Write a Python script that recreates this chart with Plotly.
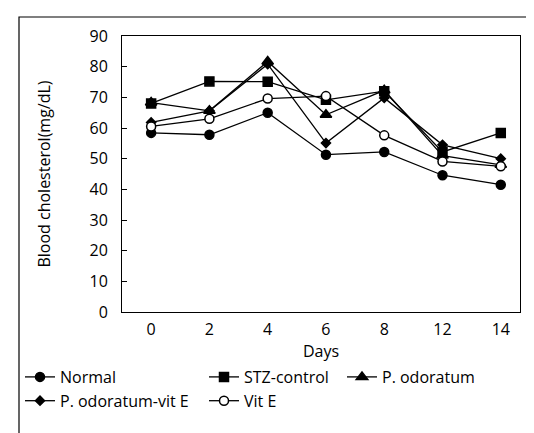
import plotly.graph_objects as go

days = ["0", "2", "4", "6", "8", "12", "14"]
normal = [58.4, 57.8, 65.0, 51.3, 52.2, 44.6, 41.5]
stz_control = [68.0, 75.2, 75.1, 69.2, 72.0, 52.2, 58.4]
p_odoratum = [68.3, 65.6, 81.7, 64.3, 72.3, 51.0, 48.0]
p_odoratum_vitE = [61.8, 65.6, 80.8, 55.1, 69.8, 54.5, 50.0]
vit_e = [60.5, 63.0, 69.6, 70.4, 57.6, 49.1, 47.5]
yticks = [0, 10, 20, 30, 40, 50, 60, 70, 80, 90]

W, H = 534, 433
L, R, T, B = 114, 22, 28, 129
PW, PH = W - L - R, H - T - B

FONT = "Open Sans"
FS = 16
xidx = list(range(len(days)))

series = [
    ("Normal", normal, "circle", 9, "black", "legend"),
    ("STZ-control", stz_control, "square", 9, "black", "legend2"),
    ("P. odoratum", p_odoratum, "triangle-up", 10, "black", "legend3"),
    ("P. odoratum-vit E", p_odoratum_vitE, "diamond", 7, "black", "legend"),
    ("Vit E", vit_e, "circle", 9, "white", "legend2"),
]

fig = go.Figure()
for name, vals, sym, sz, col, lg in series:
    fig.add_trace(go.Scatter(
        x=xidx, y=vals, name=name, mode="lines+markers",
        line=dict(color="black", width=1.3),
        marker=dict(symbol=sym, size=sz, color=col,
                    line=dict(color="black", width=1.5)),
        legend=lg,
    ))

def px2paper_x(px):
    return (px - L) / PW

def px2paper_y(py):
    return (H - B - py) / PH

leg_common = dict(font=dict(family=FONT, size=FS, color="black"), bgcolor="rgba(0,0,0,0)",
                  xref="paper", yref="paper", xanchor="left", yanchor="top",
                  orientation="v", tracegroupgap=0, itemwidth=30)

fig.update_layout(
    width=W, height=H,
    margin=dict(l=L, r=R, t=T, b=B, autoexpand=False),
    paper_bgcolor="white", plot_bgcolor="white",
    font=dict(family=FONT, size=FS, color="black"),
    showlegend=True,
    legend=dict(x=px2paper_x(12), y=px2paper_y(352), **leg_common),
    legend2=dict(x=px2paper_x(196), y=px2paper_y(352), **leg_common),
    legend3=dict(x=px2paper_x(334), y=px2paper_y(352), **leg_common),
    xaxis=dict(
        range=[-0.5, 6.33], tickmode="array", tickvals=xidx, ticktext=days,
        showgrid=False, zeroline=False, showline=True, linecolor="black", linewidth=1,
        mirror=True, ticks="", ticklabelstandoff=3,
        title=dict(text="Days", standoff=5, font=dict(family=FONT, size=FS)),
        tickfont=dict(family=FONT, size=FS),
    ),
    yaxis=dict(
        range=[0, 90], tickmode="array", tickvals=yticks,
        showgrid=False, zeroline=False, showline=True, linecolor="black", linewidth=1,
        mirror=True, ticks="inside", ticklen=5, tickcolor="black", ticklabelstandoff=10,
        title=dict(text="Blood cholesterol(mg/dL)", standoff=34,
                   font=dict(family=FONT, size=FS)),
        tickfont=dict(family=FONT, size=FS),
    ),
    shapes=[dict(type="rect", xref="paper", yref="paper",
                 x0=px2paper_x(11), x1=px2paper_x(545),
                 y0=px2paper_y(445), y1=px2paper_y(9),
                 line=dict(color="black", width=1.2), fillcolor="rgba(0,0,0,0)", layer="below")],
)

fig.write_html("out.html")
